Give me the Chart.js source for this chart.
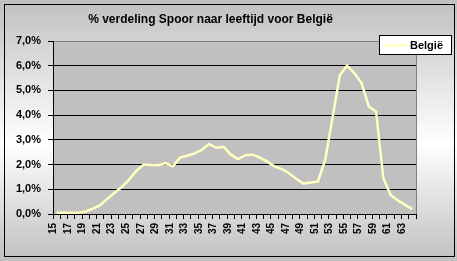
<!DOCTYPE html>
<html>
<head>
<meta charset="utf-8">
<script src="https://cdn.jsdelivr.net/npm/chart.js@4/dist/chart.umd.min.js"></script>
<style>
html,body{margin:0;padding:0;background:#fff;}
#wrap{position:relative;width:457px;height:261px;}
canvas{display:block;}
</style>
</head>
<body>
<div id="wrap"><canvas id="c" width="457" height="261"></canvas></div>
<script>
const titleText = '% verdeling Spoor naar leeftijd voor België';
const seriesName = 'België';
const ages = [15,16,17,18,19,20,21,22,23,24,25,26,27,28,29,30,31,32,33,34,35,36,37,38,39,40,41,42,43,44,45,46,47,48,49,50,51,52,53,54,55,56,57,58,59,60,61,62,63,64];
const belgie = [0.05,0.05,0.05,0.05,0.10,0.22,0.36,0.62,0.86,1.10,1.40,1.75,2.00,1.98,1.97,2.06,1.93,2.28,2.36,2.45,2.60,2.83,2.68,2.72,2.40,2.22,2.38,2.40,2.28,2.12,1.93,1.82,1.65,1.43,1.23,1.27,1.32,2.20,3.90,5.60,6.00,5.70,5.30,4.35,4.15,1.45,0.77,0.55,0.37,0.20];
const yMin = 0, yMax = 7, yStep = 1;

const FONT = 'Arial, "Liberation Sans", sans-serif';

const bgPlugin = {
  id: 'bgPlugin',
  beforeDraw(chart) {
    const ctx = chart.ctx, W = chart.width, H = chart.height;
    ctx.save();
    const g = ctx.createLinearGradient(0, 0, 0, H);
    g.addColorStop(0, '#c0c0c0');
    g.addColorStop(0.55, '#ffffff');
    g.addColorStop(1, '#c0c0c0');
    ctx.fillStyle = g;
    ctx.fillRect(0, 0, W, H);
    ctx.strokeStyle = '#000';
    ctx.lineWidth = 1;
    ctx.strokeRect(4.5, 4.5, W - 7, H - 9);
    const a = chart.chartArea;
    ctx.fillStyle = '#c0c0c0';
    ctx.fillRect(a.left, a.top, a.right - a.left, a.bottom - a.top);
    ctx.restore();
  },
  afterDatasetsDraw(chart) {
    const ctx = chart.ctx, a = chart.chartArea;
    ctx.save();
    ctx.strokeStyle = '#808080';
    ctx.lineWidth = 1;
    ctx.beginPath();
    ctx.moveTo(Math.round(a.right) + 0.5, a.top);
    ctx.lineTo(Math.round(a.right) + 0.5, a.bottom);
    ctx.stroke();
    // legend
    const ds = chart.data.datasets[0];
    const lx = 379, ly = 35, lw = 72, lh = 19;
    ctx.fillStyle = '#fff';
    ctx.fillRect(lx, ly, lw, lh);
    ctx.strokeStyle = '#000';
    ctx.strokeRect(lx + 0.5, ly + 0.5, lw, lh);
    ctx.strokeStyle = ds.borderColor;
    ctx.lineWidth = 2.5;
    ctx.beginPath();
    ctx.moveTo(383, ly + 10.5);
    ctx.lineTo(407, ly + 10.5);
    ctx.stroke();
    ctx.fillStyle = '#000';
    ctx.font = 'bold 11px ' + FONT;
    ctx.textBaseline = 'middle';
    ctx.textAlign = 'left';
    ctx.fillText(ds.label, 410, ly + 10.5);
    ctx.restore();
  }
};

new Chart(document.getElementById('c'), {
  type: 'line',
  data: {
    labels: ages,
    datasets: [{
      label: seriesName,
      data: belgie,
      borderColor: '#ffffc0',
      backgroundColor: '#ffffc0',
      borderWidth: 2.5,
      pointRadius: 0,
      tension: 0,
      fill: false
    }]
  },
  options: {
    responsive: false,
    animation: false,
    devicePixelRatio: 1,
    layout: { padding: { left: 5, right: 41, top: 0, bottom: 10 } },
    plugins: {
      legend: { display: false },
      tooltip: { enabled: false },
      title: {
        display: true,
        text: titleText,
        color: '#000',
        font: { family: FONT, size: 12, weight: 'bold', lineHeight: 1.2 },
        padding: { top: 12, bottom: 14.6 }
      }
    },
    scales: {
      x: {
        type: 'category',
        offset: true,
        grid: { display: true, offset: true, drawOnChartArea: false, drawTicks: true, tickLength: 5, tickColor: '#000' },
        border: { display: true, color: '#000', width: 1 },
        ticks: {
          autoSkip: false,
          maxRotation: 90,
          minRotation: 90,
          padding: 4,
          labelOffset: -3,
          color: '#000',
          font: { family: FONT, size: 10, weight: 'bold' },
          callback: function(v, i) { return i % 2 === 0 ? String(ages[i]) : ''; }
        },
        afterFit(scale) { scale.height = 37; }
      },
      y: {
        min: yMin, max: yMax,
        grid: {
          color: (c) => (c.tick && c.tick.value === yMax ? '#808080' : '#000'),
          tickColor: '#000',
          tickLength: 5,
          lineWidth: 1
        },
        border: { display: true, color: '#000', width: 1 },
        ticks: {
          stepSize: yStep,
          padding: 7,
          color: '#000',
          font: { family: FONT, size: 11, weight: 'bold' },
          callback: (v) => v.toFixed(1).replace('.', ',') + '%'
        },
        afterFit(scale) { scale.width = 48; }
      }
    }
  },
  plugins: [bgPlugin]
});
</script>
</body>
</html>
